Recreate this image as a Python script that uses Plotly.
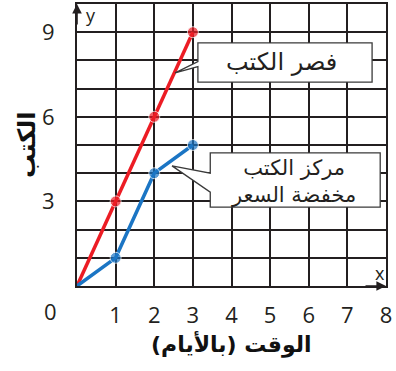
import plotly.graph_objects as go

days = [0, 1, 2, 3]
book_palace = [0, 3, 6, 9]        # فصر الكتب
discount_center = [0, 1, 4, 5]    # مركز الكتب مخفضة السعر

x_ticks = [1, 2, 3, 4, 5, 6, 7, 8]
y_ticks = [3, 6, 9]

RED = "#ec1c24"
BLUE = "#1b75c4"
GRID = "#231f20"
NUM_FONT = "Open Sans"
AR_FONT = "DejaVu Sans"

# no dot at the origin, only at days 1-3
dot_sizes = [0, 11, 11, 11]

fig = go.Figure()

fig.add_trace(go.Scatter(
    x=days, y=book_palace, mode="lines+markers",
    line=dict(color=RED, width=3.5),
    marker=dict(color=RED, size=dot_sizes),
    cliponaxis=False, showlegend=False
))
fig.add_trace(go.Scatter(
    x=days, y=discount_center, mode="lines+markers",
    line=dict(color=BLUE, width=3.5),
    marker=dict(color=BLUE, size=dot_sizes),
    cliponaxis=False, showlegend=False
))

# callout boxes with wedge tails
callout_style = dict(type="path", xref="x", yref="y",
                     line=dict(color="#3a3a3a", width=1.3),
                     fillcolor="white", layer="above")
fig.add_shape(path="M 3.13 8.62 L 7.64 8.62 L 7.64 7.23 L 3.13 7.23 L 3.13 7.78 "
                   "L 2.54 7.56 L 3.13 7.96 Z", **callout_style)
fig.add_shape(path="M 3.45 4.72 L 7.85 4.72 L 7.85 2.80 L 3.45 2.80 L 3.45 3.33 "
                   "L 2.46 4.26 L 3.45 4.0 Z", **callout_style)

fig.add_annotation(x=5.3, y=7.93, text="فصر الكتب", showarrow=False,
                   font=dict(family=AR_FONT, size=24, color="#231f20"))
fig.add_annotation(x=5.6, y=3.72, text="مركز الكتب<br>مخفضة السعر", showarrow=False,
                   font=dict(family=AR_FONT, size=21, color="#231f20"))

# axis arrows and letters
fig.add_annotation(x=8, y=0, ax=-22, ay=0, text="", showarrow=True,
                   arrowhead=2, arrowsize=1.2, arrowwidth=1.6, arrowcolor=GRID)
fig.add_annotation(x=0, y=10, ax=0, ay=22, text="", showarrow=True,
                   arrowhead=2, arrowsize=1.2, arrowwidth=1.6, arrowcolor=GRID)
fig.add_annotation(x=7.85, y=0.45, text="x", showarrow=False,
                   font=dict(family=NUM_FONT, size=18, color=GRID))
fig.add_annotation(x=0.35, y=9.6, text="y", showarrow=False,
                   font=dict(family=NUM_FONT, size=18, color=GRID))
fig.add_annotation(x=0, y=0, xshift=-27, yshift=-25, text="0", showarrow=False,
                   font=dict(family=NUM_FONT, size=22, color=GRID))

# axis titles
fig.add_annotation(xref="paper", yref="paper", x=0.5, y=0, yshift=-58,
                   xanchor="center", yanchor="middle",
                   text="<b>الوقت (بالأيام)</b>", showarrow=False,
                   font=dict(family=AR_FONT, size=22, color="#111"))
fig.add_annotation(xref="paper", yref="paper", x=0, y=0.5, xshift=-50,
                   xanchor="center", yanchor="middle",
                   text="<b>الكتب</b>", textangle=-90, showarrow=False,
                   font=dict(family=AR_FONT, size=24, color="#111"))

axis_common = dict(showgrid=True, gridcolor=GRID, gridwidth=1.8,
                   showline=True, linecolor=GRID, linewidth=1.8, mirror=True,
                   zeroline=False, ticks="", automargin=False,
                   ticklabeloverflow="allow",
                   tickfont=dict(family=NUM_FONT, size=22, color=GRID))

fig.update_xaxes(range=[0, 8], tickvals=x_ticks, ticklabelstandoff=9,
                 **axis_common)
fig.update_yaxes(range=[0, 10], tickvals=y_ticks, ticklabelstandoff=16,
                 minor=dict(dtick=1, showgrid=True, gridcolor=GRID, gridwidth=1.8),
                 **axis_common)

fig.update_layout(
    width=396, height=371,
    margin=dict(l=77, r=10, t=4, b=85),
    plot_bgcolor="white", paper_bgcolor="white",
)

# drop the browser's default body margin so the figure sits at the page corner
fig.write_html("out.html", config={"displayModeBar": False},
               post_script="document.body.style.margin='0';")
